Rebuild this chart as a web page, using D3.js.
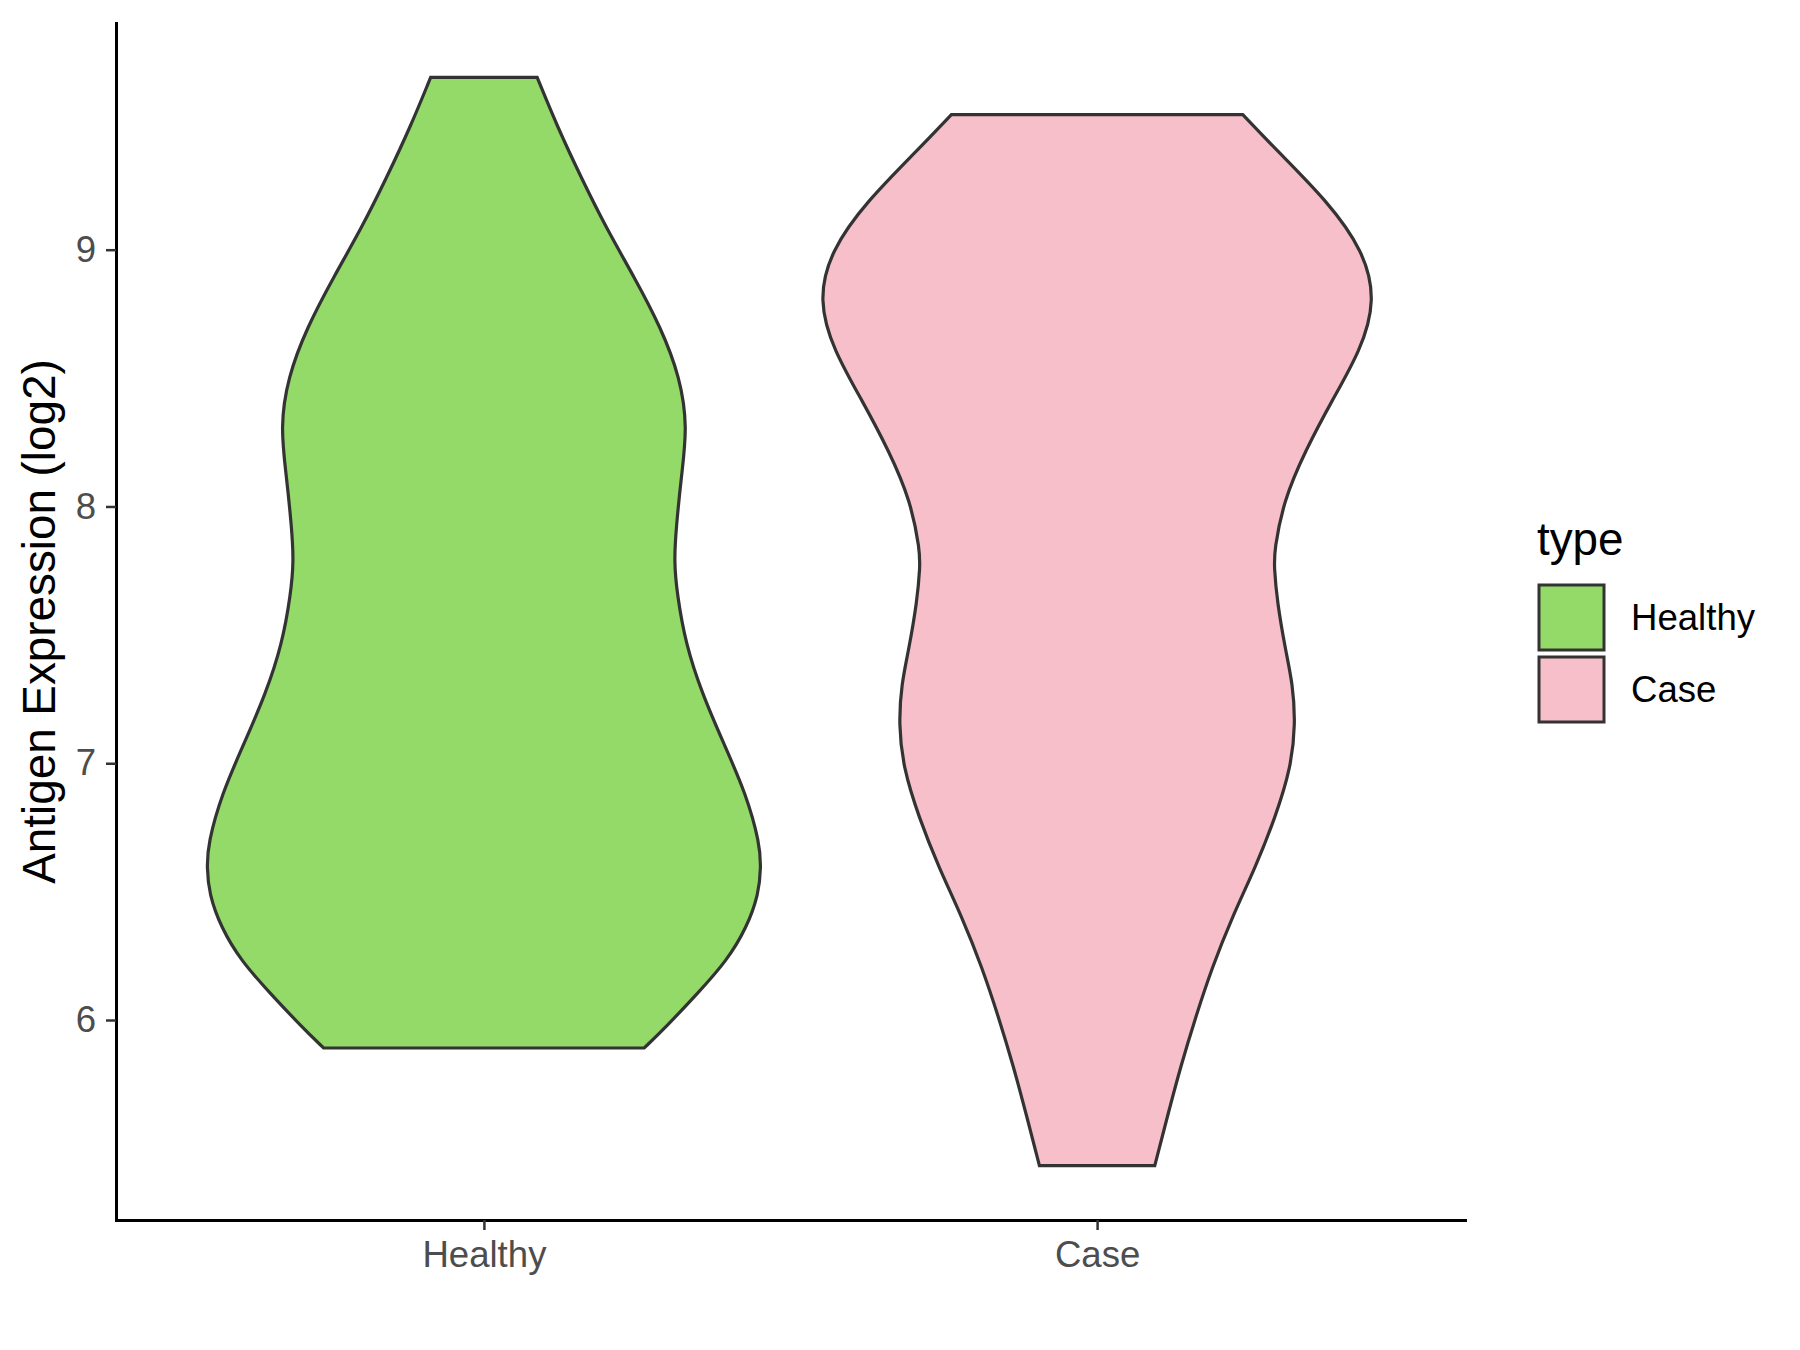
<!DOCTYPE html>
<html>
<head>
<meta charset="utf-8">
<script src="https://cdn.jsdelivr.net/npm/d3@7"></script>
<style>
  html, body { margin: 0; padding: 0; background: #ffffff; }
  svg { display: block; }
  text { font-family: "Liberation Sans", Arial, sans-serif; }
</style>
</head>
<body>
<svg id="chart" width="1800" height="1350"></svg>
<script>
// ---- Data ----
const categories = ["Healthy", "Case"];
const fillColors = ["#93DA69", "#F7BFCA"];

// Violin outlines: expression level (log2) and relative half-width (density, max = 1)
const healthyLevels = [9.671, 9.477, 9.282, 9.087, 8.893, 8.698, 8.503, 8.308, 8.114, 7.919, 7.789, 7.659, 7.465, 7.270, 7.075, 6.881, 6.686, 6.595, 6.491, 6.361, 6.231, 6.102, 5.972, 5.891];
const healthyDensity = [0.193, 0.267, 0.352, 0.442, 0.545, 0.641, 0.711, 0.738, 0.715, 0.697, 0.689, 0.700, 0.731, 0.791, 0.870, 0.950, 1.000, 1.004, 0.996, 0.953, 0.881, 0.773, 0.659, 0.581];

const caseLevels = [9.526, 9.386, 9.191, 8.996, 8.802, 8.607, 8.412, 8.218, 8.023, 7.828, 7.763, 7.633, 7.439, 7.309, 7.153, 6.984, 6.789, 6.595, 6.400, 6.205, 6.011, 5.816, 5.621, 5.433];
const caseDensity = [0.528, 0.652, 0.833, 0.966, 1.010, 0.955, 0.851, 0.755, 0.676, 0.642, 0.642, 0.652, 0.683, 0.709, 0.719, 0.703, 0.646, 0.574, 0.489, 0.417, 0.357, 0.302, 0.254, 0.209];

const yTicks = [6, 7, 8, 9];
const yTitle = "Antigen Expression (log2)";
const legendTitle = "type";

(function () {
  // ---- Layout ----
  const svg = d3.select("#chart");
  const pLeft = 116, pRight = 1465, pTop = 23, pBottom = 1220;

  const allLevels = healthyLevels.concat(caseLevels);
  const yMin = d3.min(allLevels), yMax = d3.max(allLevels);
  const pad = (yMax - yMin) * 0.05;
  const y = d3.scaleLinear().domain([yMin - pad, yMax + pad]).range([pBottom, pTop]);

  const x = d3.scalePoint().domain(categories).range([pLeft, pRight]).padding(0.6);
  const halfMax = x.step() * 0.45;

  const groups = [
    { name: "Healthy", levels: healthyLevels, density: healthyDensity, fill: fillColors[0] },
    { name: "Case", levels: caseLevels, density: caseDensity, fill: fillColors[1] }
  ];

  // ---- Violins ----
  groups.forEach(g => {
    const pts = g.levels.map((v, i) => ({ v: v, d: g.density[i] }));
    const cx = x(g.name);
    const area = d3.area()
      .y(p => y(p.v))
      .x0(p => cx - p.d * halfMax)
      .x1(p => cx + p.d * halfMax)
      .curve(d3.curveBasis);
    svg.append("path")
      .datum(pts)
      .attr("d", area)
      .attr("fill", g.fill)
      .attr("stroke", "#333333")
      .attr("stroke-width", 3.2)
      .attr("stroke-linejoin", "miter");
  });

  // ---- Axes ----
  const yAxis = d3.axisLeft(y).tickValues(yTicks).tickFormat(d3.format("d"))
    .tickSize(10).tickSizeOuter(0).tickPadding(10);
  const gy = svg.append("g").attr("transform", `translate(${pLeft},0)`).call(yAxis);
  gy.select(".domain").attr("stroke", "#000000").attr("stroke-width", 3).attr("stroke-linecap", "square");
  gy.selectAll(".tick line").attr("stroke", "#333333").attr("stroke-width", 2.5);
  gy.selectAll(".tick text").attr("fill", "#4D4D4D").style("font-size", "36.6px")
    .style("font-family", "'Liberation Sans', Arial, sans-serif");

  const xAxis = d3.axisBottom(x).tickSize(10).tickSizeOuter(0).tickPadding(11);
  const gx = svg.append("g").attr("transform", `translate(0,${pBottom})`).call(xAxis);
  gx.select(".domain").attr("stroke", "#000000").attr("stroke-width", 3).attr("stroke-linecap", "square");
  gx.selectAll(".tick line").attr("stroke", "#333333").attr("stroke-width", 2.5);
  gx.selectAll(".tick text").attr("fill", "#4D4D4D").style("font-size", "36.6px")
    .style("font-family", "'Liberation Sans', Arial, sans-serif");

  // ---- Y title ----
  svg.append("text")
    .attr("transform", `translate(55,${(pTop + pBottom) / 2}) rotate(-90)`)
    .attr("text-anchor", "middle")
    .attr("fill", "#000000")
    .style("font-size", "45.8px")
    .text(yTitle);

  // ---- Legend ----
  const lg = svg.append("g");
  lg.append("text")
    .attr("x", 1537).attr("y", 555)
    .attr("fill", "#000000")
    .style("font-size", "45.8px")
    .text(legendTitle);

  groups.forEach((g, i) => {
    const ky = 585 + i * 72;
    lg.append("rect")
      .attr("x", 1539).attr("y", ky)
      .attr("width", 65).attr("height", 65)
      .attr("fill", g.fill)
      .attr("stroke", "#333333")
      .attr("stroke-width", 3);
    lg.append("text")
      .attr("x", 1631).attr("y", ky + 32.5)
      .attr("dy", "0.35em")
      .attr("fill", "#000000")
      .style("font-size", "36.6px")
      .text(g.name);
  });
})();
</script>
</body>
</html>
